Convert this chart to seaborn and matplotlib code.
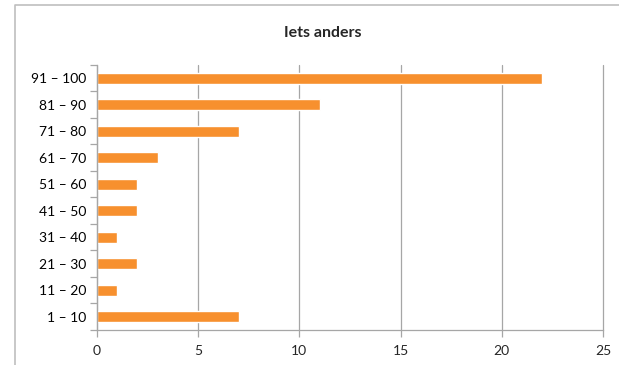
import matplotlib
matplotlib.use("Agg")
import matplotlib.pyplot as plt
import seaborn as sns
import pandas as pd
from matplotlib.lines import Line2D

# data, top to bottom as shown
ranges = ["91 – 100", "81 – 90", "71 – 80", "61 – 70", "51 – 60",
          "41 – 50", "31 – 40", "21 – 30", "11 – 20", "1 – 10"]
counts = [22, 11, 7, 3, 2, 2, 1, 2, 1, 7]

df = pd.DataFrame({"range": ranges, "count": counts})

sns.set_style("white")
plt.rcParams["font.family"] = ["Lato", "DejaVu Sans"]

fig = plt.figure(figsize=(6.19, 3.65), dpi=100)
ax = fig.add_axes([97 / 619, 1 - 330 / 365, (603 - 97) / 619, (330 - 65) / 365])

sns.barplot(data=df, x="count", y="range", order=ranges, color="#F7902E",
            saturation=1, width=0.4, orient="h", ax=ax)

ax.set_xlim(0, 25)
ax.set_ylim(9.5, -0.5)
ax.set_xticks(range(0, 26, 5))
ax.set_xlabel("")
ax.set_ylabel("")
ax.grid(axis="x", color="#A6A6A6", linewidth=0.9)
ax.set_axisbelow(True)
for gl in ax.get_xgridlines():
    gl.set_clip_on(False)

for s in ["top", "right"]:
    ax.spines[s].set_visible(False)
for s in ["left", "bottom"]:
    ax.spines[s].set_color("#A6A6A6")
    ax.spines[s].set_linewidth(0.9)

# ticks between categories on the y axis
ax.set_yticks([i + 0.5 for i in range(-1, 10)], minor=True)
ax.tick_params(axis="y", which="major", length=0, pad=8, labelsize=10, colors="#000000")
ax.tick_params(axis="y", which="minor", length=5, color="#A6A6A6", width=0.9, left=True)
ax.tick_params(axis="x", which="major", length=5, color="#A6A6A6", width=0.9,
               bottom=True, labelsize=10, pad=6)

fig.text(323 / 619, 1 - 33 / 365, "Iets anders", ha="center", va="center",
         fontsize=11.5, fontweight="bold")

# outer chart frame (clipped at the right and bottom)
fig.add_artist(Line2D([15 / 619, 15 / 619, 1.01], [-0.01, 1 - 5 / 365, 1 - 5 / 365],
                      color="#BFBFBF", linewidth=1.2, transform=fig.transFigure))

fig.savefig("out.png", dpi=100)
